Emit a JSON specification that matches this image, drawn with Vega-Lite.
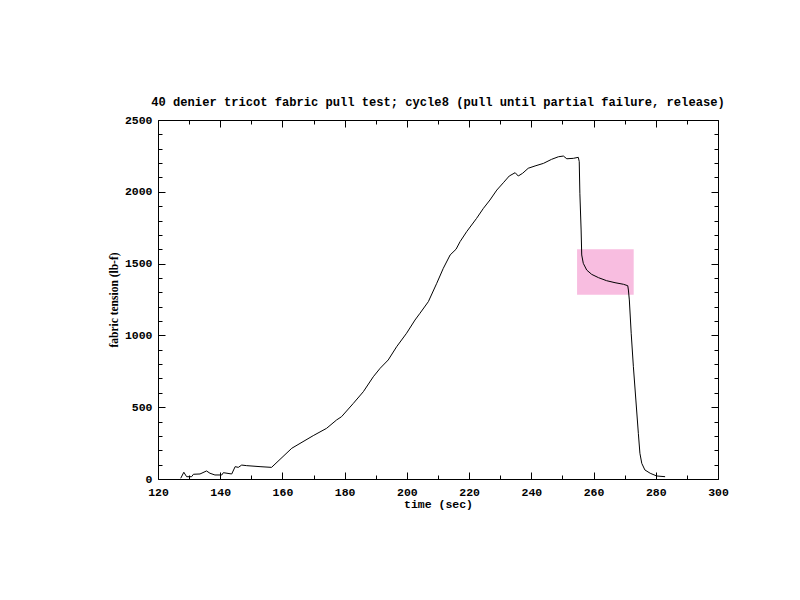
{
  "$schema": "https://vega.github.io/schema/vega-lite/v6.json",
  "autosize": {"type": "none"},
  "padding": {"left": 158, "top": 120, "right": 82, "bottom": 121},
  "width": 560,
  "height": 359,
  "background": "white",
  "title": {
    "text": "40 denier tricot fabric pull test; cycle8 (pull until partial failure, release)",
    "font": "Liberation Mono",
    "fontSize": 12.1,
    "fontWeight": "bold",
    "color": "black",
    "offset": 6,
    "anchor": "middle"
  },
  "config": {
    "view": {"stroke": "black", "strokeWidth": 1},
    "axis": {"grid": false, "domain": false, "tickColor": "black", "labelColor": "black", "titleColor": "black"}
  },
  "datasets": {
    "curve": [
      {"t": 127.3, "f": 5},
      {"t": 128.3, "f": 47},
      {"t": 129.2, "f": 16},
      {"t": 130.8, "f": 16},
      {"t": 131.4, "f": 33},
      {"t": 133.5, "f": 35},
      {"t": 135.6, "f": 56},
      {"t": 136.7, "f": 40},
      {"t": 138.3, "f": 28},
      {"t": 140.5, "f": 28},
      {"t": 141.0, "f": 44},
      {"t": 143.7, "f": 35},
      {"t": 144.8, "f": 86},
      {"t": 145.8, "f": 81},
      {"t": 146.9, "f": 97},
      {"t": 148.5, "f": 93},
      {"t": 152.8, "f": 86},
      {"t": 156.5, "f": 81},
      {"t": 163.0, "f": 214},
      {"t": 169.9, "f": 302},
      {"t": 174.2, "f": 353},
      {"t": 177.4, "f": 411},
      {"t": 179.0, "f": 434},
      {"t": 182.8, "f": 527},
      {"t": 186.0, "f": 608},
      {"t": 189.2, "f": 712},
      {"t": 191.4, "f": 771},
      {"t": 194.0, "f": 829},
      {"t": 196.7, "f": 921},
      {"t": 199.9, "f": 1015},
      {"t": 202.6, "f": 1107},
      {"t": 204.2, "f": 1154},
      {"t": 206.9, "f": 1235},
      {"t": 209.6, "f": 1363},
      {"t": 211.7, "f": 1467},
      {"t": 213.9, "f": 1560},
      {"t": 215.8, "f": 1600},
      {"t": 217.1, "f": 1653},
      {"t": 219.2, "f": 1722},
      {"t": 222.4, "f": 1815},
      {"t": 224.6, "f": 1885},
      {"t": 226.7, "f": 1943},
      {"t": 228.9, "f": 2012},
      {"t": 231.0, "f": 2063},
      {"t": 232.9, "f": 2110},
      {"t": 234.8, "f": 2133},
      {"t": 235.8, "f": 2110},
      {"t": 237.2, "f": 2129},
      {"t": 239.0, "f": 2164},
      {"t": 241.2, "f": 2180},
      {"t": 243.9, "f": 2198},
      {"t": 246.5, "f": 2226},
      {"t": 248.7, "f": 2244},
      {"t": 250.3, "f": 2249},
      {"t": 251.4, "f": 2230},
      {"t": 253.5, "f": 2233},
      {"t": 255.1, "f": 2240},
      {"t": 255.4, "f": 2210},
      {"t": 255.6, "f": 1990},
      {"t": 256.0, "f": 1734},
      {"t": 256.2, "f": 1560},
      {"t": 256.7, "f": 1502},
      {"t": 257.8, "f": 1455},
      {"t": 259.4, "f": 1425},
      {"t": 261.6, "f": 1402},
      {"t": 264.2, "f": 1381},
      {"t": 266.9, "f": 1367},
      {"t": 269.6, "f": 1356},
      {"t": 271.0, "f": 1346},
      {"t": 271.2, "f": 1316},
      {"t": 271.5, "f": 1247},
      {"t": 272.1, "f": 1015},
      {"t": 272.8, "f": 782},
      {"t": 273.6, "f": 550},
      {"t": 274.4, "f": 318},
      {"t": 274.9, "f": 179},
      {"t": 275.5, "f": 109},
      {"t": 276.5, "f": 63},
      {"t": 278.2, "f": 40},
      {"t": 280.3, "f": 21},
      {"t": 283.0, "f": 16}
    ],
    "box": [
      {"t1": 254.7, "t2": 272.9, "f1": 1283, "f2": 1600}
    ]
  },
  "resolve": {"axis": {"x": "independent", "y": "independent"}},
  "layer": [
    {
      "data": {"name": "box"},
      "mark": {"type": "rect", "fill": "#f8bde0", "stroke": null},
      "encoding": {
        "x": {
          "field": "t1", "type": "quantitative",
          "scale": {"domain": [120, 300], "nice": false, "zero": false},
          "axis": {
            "orient": "bottom", "ticks": false, "labelPadding": 7, "format": "d",
            "values": [120, 140, 160, 180, 200, 220, 240, 260, 280, 300],
            "labelFont": "Liberation Mono", "labelFontSize": 11.5, "labelFontWeight": "bold",
            "labelFlush": false, "labelOverlap": false,
            "title": "time (sec)", "titleFont": "Liberation Mono", "titleFontSize": 11.5,
            "titleFontWeight": "bold", "titlePadding": 1
          }
        },
        "x2": {"field": "t2"},
        "y": {
          "field": "f1", "type": "quantitative",
          "scale": {"domain": [0, 2500], "nice": false},
          "axis": {
            "orient": "left", "ticks": false, "labelPadding": 6, "format": "d",
            "values": [0, 500, 1000, 1500, 2000, 2500],
            "labelFont": "Liberation Mono", "labelFontSize": 11.5, "labelFontWeight": "bold",
            "labelFlush": false, "labelOverlap": false,
            "title": "fabric tension (lb-f)", "titleFont": "Liberation Serif", "titleFontSize": 11.5,
            "titleFontWeight": "bold", "titlePadding": 5
          }
        },
        "y2": {"field": "f2"}
      }
    },
    {
      "data": {"name": "curve"},
      "mark": {"type": "line", "color": "black", "strokeWidth": 1},
      "encoding": {
        "x": {
          "field": "t", "type": "quantitative",
          "axis": {"orient": "bottom", "labels": false, "title": null, "tickSize": -7,
                   "values": [120, 140, 160, 180, 200, 220, 240, 260, 280, 300]}
        },
        "y": {
          "field": "f", "type": "quantitative",
          "axis": {"orient": "left", "labels": false, "title": null, "tickSize": -7,
                   "values": [0, 500, 1000, 1500, 2000, 2500]}
        }
      }
    },
    {
      "data": {"name": "curve"},
      "mark": {"type": "point", "opacity": 0},
      "encoding": {
        "x": {
          "field": "t", "type": "quantitative",
          "axis": {"orient": "top", "labels": false, "title": null, "tickSize": -7,
                   "values": [120, 140, 160, 180, 200, 220, 240, 260, 280, 300]}
        },
        "y": {
          "field": "f", "type": "quantitative",
          "axis": {"orient": "right", "labels": false, "title": null, "tickSize": -7,
                   "values": [0, 500, 1000, 1500, 2000, 2500]}
        }
      }
    },
    {
      "data": {"name": "curve"},
      "mark": {"type": "point", "opacity": 0},
      "encoding": {
        "x": {
          "field": "t", "type": "quantitative",
          "axis": {"orient": "bottom", "labels": false, "title": null, "tickSize": -4,
                   "values": [130, 150, 170, 190, 210, 230, 250, 270, 290]}
        },
        "y": {
          "field": "f", "type": "quantitative",
          "axis": {"orient": "left", "labels": false, "title": null, "tickSize": -4,
                   "values": [100, 200, 300, 400, 600, 700, 800, 900, 1100, 1200, 1300, 1400, 1600, 1700, 1800, 1900, 2100, 2200, 2300, 2400]}
        }
      }
    },
    {
      "data": {"name": "curve"},
      "mark": {"type": "point", "opacity": 0},
      "encoding": {
        "x": {
          "field": "t", "type": "quantitative",
          "axis": {"orient": "top", "labels": false, "title": null, "tickSize": -4,
                   "values": [130, 150, 170, 190, 210, 230, 250, 270, 290]}
        },
        "y": {
          "field": "f", "type": "quantitative",
          "axis": {"orient": "right", "labels": false, "title": null, "tickSize": -4,
                   "values": [100, 200, 300, 400, 600, 700, 800, 900, 1100, 1200, 1300, 1400, 1600, 1700, 1800, 1900, 2100, 2200, 2300, 2400]}
        }
      }
    }
  ]
}
